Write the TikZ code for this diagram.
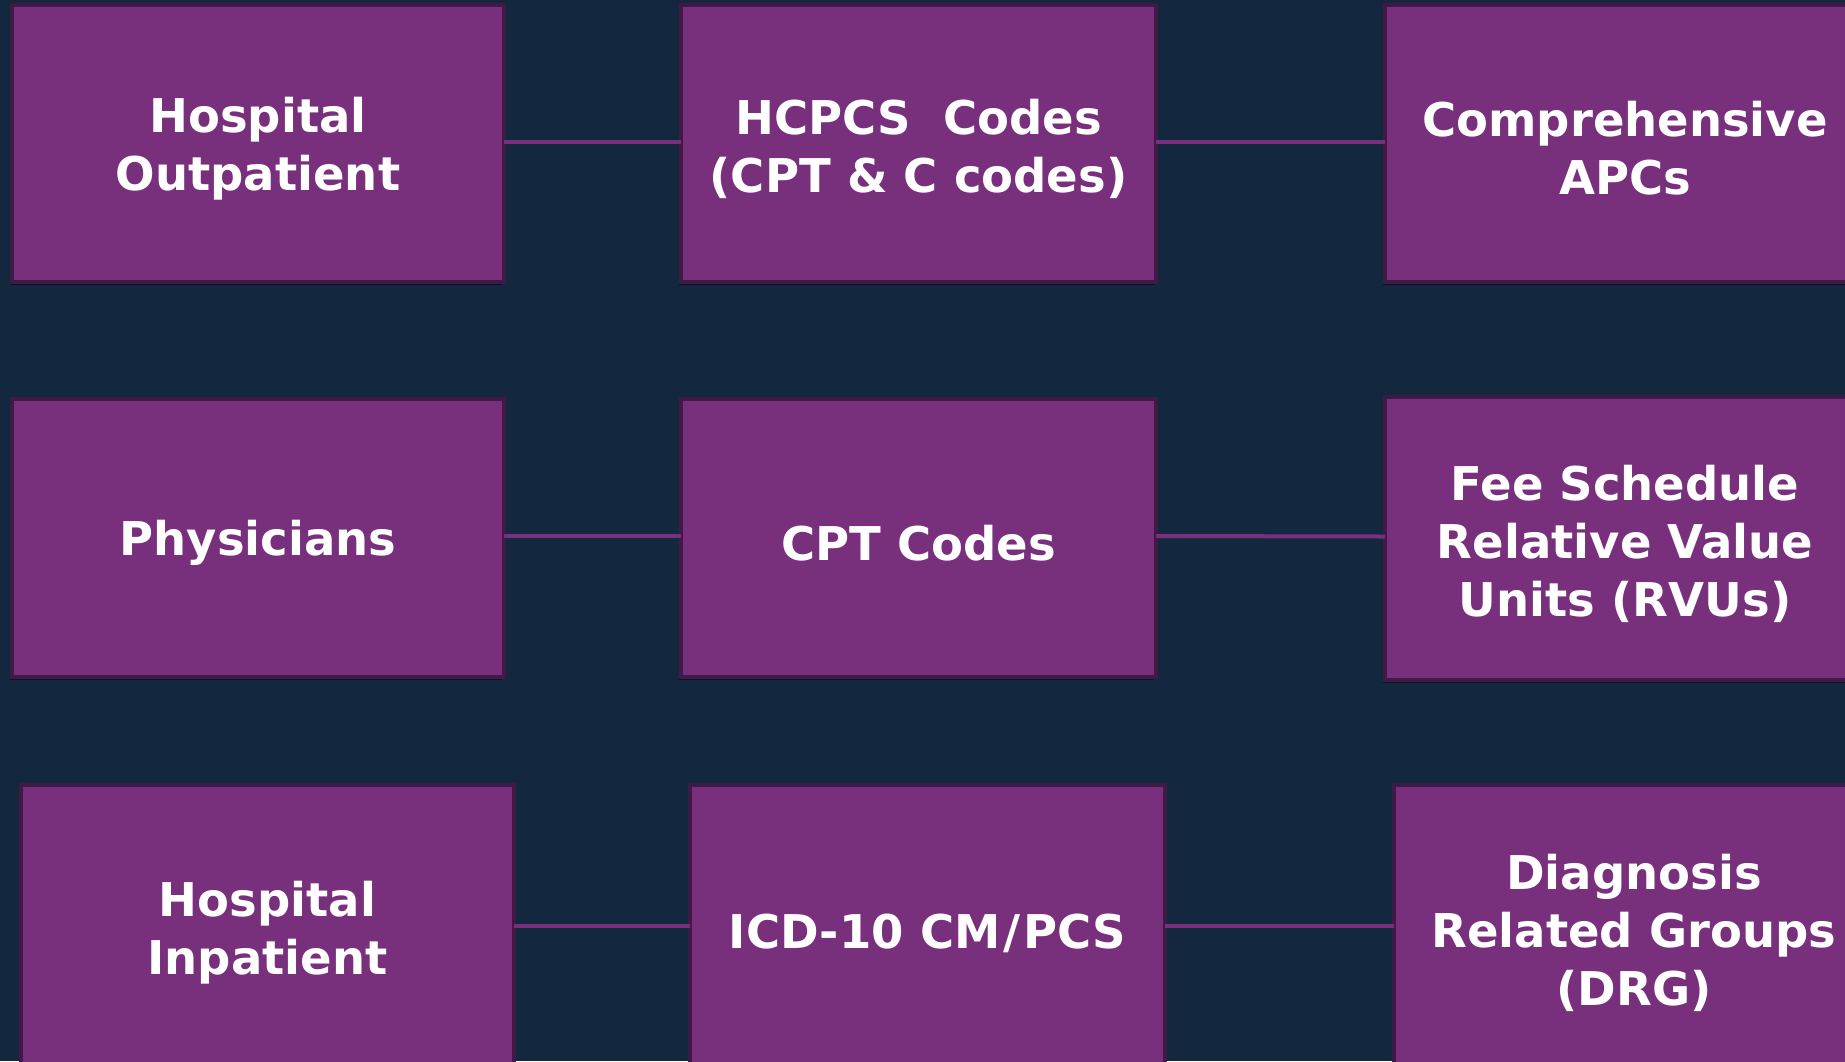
\documentclass[tikz,border=0pt]{standalone}
\usepackage{fontspec}
\setmainfont{DejaVu Sans}
\usetikzlibrary{shadows}
\definecolor{bgnavy}{HTML}{13273F}
\definecolor{boxfill}{HTML}{782F7C}
\definecolor{boxedge}{HTML}{3F1A47}
\definecolor{linkcol}{HTML}{7A2F7E}
\tikzset{
  codebox/.style={draw=boxedge, line width=2pt, fill=boxfill, inner sep=0pt, outer sep=0pt,
    drop shadow={shadow xshift=-1.2pt, shadow yshift=-1.5pt, opacity=0.45, fill=black}},
  boxtext/.style={text=white, align=center, inner sep=0pt, yshift=-2.5pt,
    font=\fontsize{23.25}{29}\selectfont\bfseries},
  link/.style={draw=linkcol, line width=2pt}
}
\begin{document}
\begin{tikzpicture}[x=0.5pt, y=-0.5pt]
\fill[bgnavy] (0,0) rectangle (1845,1061);
\useasboundingbox (0,0) rectangle (1845,1061);
\clip (0,0) rectangle (1845,1061);
% row 1
\node[codebox, minimum width=246pt, minimum height=138.5pt] (b1) at (258,143.5) {};
\node[codebox, minimum width=237.5pt, minimum height=138.5pt] (b2) at (918.5,143.5) {};
\node[codebox, minimum width=240pt, minimum height=138.5pt] (b3) at (1625,143.5) {};
% row 2
\node[codebox, minimum width=246pt, minimum height=139pt] (b4) at (258,538) {};
\node[codebox, minimum width=237.5pt, minimum height=139pt] (b5) at (918.5,538) {};
\node[codebox, minimum width=240pt, minimum height=141.5pt] (b6) at (1625,538.5) {};
% row 3
\node[codebox, minimum width=246.5pt, minimum height=143pt] (b7) at (267.5,928) {};
\node[codebox, minimum width=237.5pt, minimum height=143pt] (b8) at (927.5,928) {};
\node[codebox, minimum width=240pt, minimum height=143pt] (b9) at (1634,928) {};
% texts
\node[boxtext] (t1) at (b1.center) {Hospital\\Outpatient};
\node[boxtext] (t2) at (b2.center) {HCPCS\ \ Codes\\(CPT \& C codes)};
\node[boxtext] (t3) at (b3.center) {Comprehensive\\APCs};
\node[boxtext] (t4) at (b4.center) {Physicians};
\node[boxtext] (t5) at (b5.center) {CPT Codes};
\node[boxtext] (t6) at (b6.center) {Fee Schedule\\Relative Value\\Units (RVUs)};
\node[boxtext] (t7) at (b7.center) {Hospital\\Inpatient};
\node[boxtext] (t8) at (b8.center) {ICD-10 CM\kern1.5pt/\kern1.5pt PCS};
\node[boxtext] (t9) at (b9.center) {Diagnosis\\Related Groups\\(DRG)};
% connectors
\draw[link] ([yshift=1pt]b1.east) -- ([yshift=1pt]b2.west);
\draw[link] ([yshift=1pt]b2.east) -- ([yshift=1pt]b3.west);
\draw[link] ([yshift=1pt]b4.east) -- ([yshift=1pt]b5.west);
\draw[link] ([yshift=1pt]b5.east) -- ([yshift=1pt]b6.west);
\draw[link] ([yshift=1pt]b7.east) -- ([yshift=1pt]b8.west);
\draw[link] ([yshift=1pt]b8.east) -- ([yshift=1pt]b9.west);
\end{tikzpicture}
\end{document}
